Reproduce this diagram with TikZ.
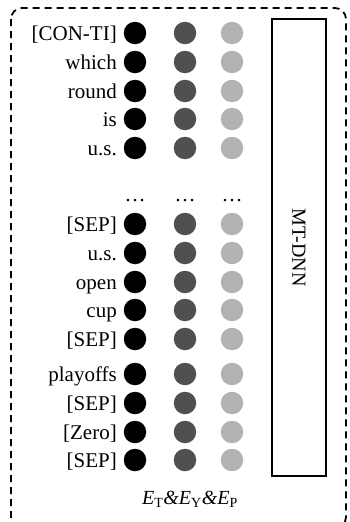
\documentclass[tikz,border=0pt]{standalone}
\usepackage{fontspec}
\setmainfont{Liberation Serif}
\definecolor{dkgray}{HTML}{505050}
\definecolor{ltgray}{HTML}{B2B2B2}
\begin{document}
\begin{tikzpicture}[x=1pt,y=-1pt,
  dotA/.style={circle,fill=black,minimum size=22.5pt,inner sep=0pt},
  dotB/.style={circle,fill=dkgray,minimum size=22.5pt,inner sep=0pt},
  dotC/.style={circle,fill=ltgray,minimum size=22.5pt,inner sep=0pt},
  word/.style={anchor=base east,inner sep=0pt,font=\fontsize{21}{24}\selectfont},
  ell/.style={inner sep=0pt,font=\fontsize{21}{24}\selectfont}]
\useasboundingbox (0,0) rectangle (349,522);
\draw[line width=1.8pt,dash pattern=on 7pt off 5pt,rounded corners=11pt] (11,8) rectangle (346,528);
\node[draw,line width=1.8pt,minimum width=54pt,minimum height=457pt,inner sep=0pt] (mt) at (299,247.5) {};
\node[rotate=-90,ell,font=\fontsize{20}{24}\selectfont] (mtl) at (mt.center) {MT-DNN};
\foreach \i/\w/\y in {1/{[CON-TI]}/33,2/which/62,3/round/91,4/is/119,5/u.s./148,
  6/{[SEP]}/224,7/u.s./253,8/open/282,9/cup/310,10/{[SEP]}/339,11/playoffs/374,
  12/{[SEP]}/403,13/{[Zero]}/432,14/{[SEP]}/460}{
  \node[dotA] (a\i) at (135,\y) {};
  \node[dotB] (b\i) at (185,\y) {};
  \node[dotC] (c\i) at (232,\y) {};
  \node[word] (w\i) at (117,\y+7) {\w};
}
\node[ell,anchor=base] (da) at (135,201) {\dots};
\node[ell,anchor=base] (db) at (185,201) {\dots};
\node[ell,anchor=base] (dc) at (232,201) {\dots};
\node[ell,font=\fontsize{20}{22}\selectfont] (emb) at (190,499) {\textit{E}\textsubscript{T}\textit{\&E}\textsubscript{Y}\textit{\&E}\textsubscript{P}};
\end{tikzpicture}
\end{document}
